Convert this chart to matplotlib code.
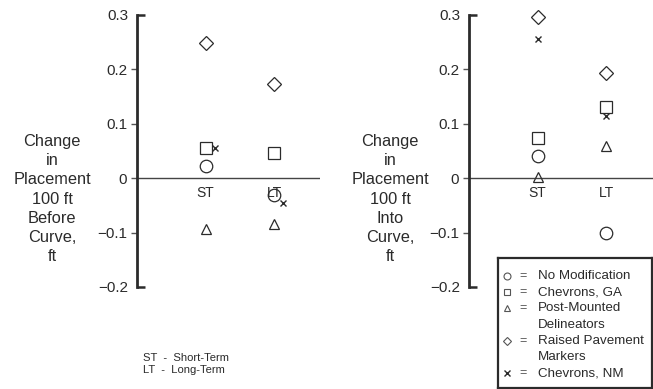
import matplotlib
matplotlib.use("Agg")
import matplotlib.pyplot as plt

plt.rcParams['font.family'] = ['Liberation Sans', 'DejaVu Sans']

# x positions of the two terms
terms = ['ST', 'LT']
term_x = [1, 2]

# change in placement 100 ft before curve (ft)
before_none = [0.022, -0.03]
before_chev_ga = [0.055, 0.046]
before_pmd = [-0.094, -0.085]
before_rpm = [0.249, 0.173]
before_chev_nm = [0.055, -0.045]

# change in placement 100 ft into curve (ft)
into_none = [0.041, -0.10]
into_chev_ga = [0.074, 0.131]
into_pmd = [0.002, 0.059]
into_rpm = [0.297, 0.194]
into_chev_nm = [0.255, 0.114]

# small sideways offset of the x marks that sit beside other marks
before_nm_dx = [0.13, 0.12]
into_nm_dx = [0.0, 0.0]

yticks_major = [0.2, 0.1, 0, -0.1]
ytick_major_labels = ['0.2', '0.1', '0', '\u22120.1']
yticks_minor = [0.3, -0.2]
ytick_minor_labels = ['0.3', '\u22120.2']

legend_marks = ['o', 's', '^', 'D', 'x']
legend_texts = ['No Modification', 'Chevrons, GA', 'Post-Mounted\nDelineators',
                'Raised Pavement\nMarkers', 'Chevrons, NM']

fig = plt.figure(figsize=(6.53, 3.89), dpi=100)

W, H = 653.0, 389.0
INK = '#2b2b2b'


def panel(left_px, right_px, series, nm_dx, ylabel, label_x_px):
    ax = fig.add_axes([left_px / W, 1 - 287 / H, (right_px - left_px) / W, (287 - 15) / H])
    ax.set_xlim(0, (right_px - left_px) / 68.7)
    ax.set_ylim(-0.2, 0.3)
    for s in ['top', 'right', 'bottom']:
        ax.spines[s].set_visible(False)
    ax.spines['left'].set_linewidth(2)
    ax.spines['left'].set_color(INK)
    ax.axhline(0, color='#444444', lw=1)
    ax.set_xticks([])
    ax.set_yticks(yticks_major)
    ax.set_yticklabels(ytick_major_labels)
    ax.set_yticks(yticks_minor, minor=True)
    ax.set_yticklabels(ytick_minor_labels, minor=True)
    ax.tick_params(axis='y', which='major', direction='out', length=4, width=1,
                   labelsize=11, pad=3, colors='#555555', labelcolor=INK)
    ax.tick_params(axis='y', which='minor', direction='in', length=6, width=1.8,
                   labelsize=11, pad=6, colors=INK)

    none, ga, pmd, rpm, nm = series
    kw = dict(linestyle='none', mfc='none', mec=INK, mew=0.9, clip_on=False)
    ax.plot(term_x, none, marker='o', ms=9, **kw)
    ax.plot(term_x, ga, marker='s', ms=9, **kw)
    ax.plot(term_x, pmd, marker='^', ms=7.5, **kw)
    ax.plot(term_x, rpm, marker='D', ms=7, **kw)
    ax.plot([x + d for x, d in zip(term_x, nm_dx)], nm, marker='x', ms=4.5,
            linestyle='none', color=INK, mew=1.0, clip_on=False)

    for x, t in zip(term_x, terms):
        ax.text(x, -0.014, t, ha='center', va='top', fontsize=10, color=INK)

    fig.text(label_x_px / W, 1 - 199 / H, ylabel, ha='center', va='center',
             fontsize=11.8, color=INK, linespacing=1.36)
    return ax


panel(137, 320, [before_none, before_chev_ga, before_pmd, before_rpm, before_chev_nm],
      before_nm_dx, 'Change\nin\nPlacement\n100 ft\nBefore\nCurve,\nft', 52)
panel(469, 653, [into_none, into_chev_ga, into_pmd, into_rpm, into_chev_nm],
      into_nm_dx, 'Change\nin\nPlacement\n100 ft\nInto\nCurve,\nft', 390)

# legend box
lax = fig.add_axes([498 / W, 1 - 388 / H, (652 - 498) / W, (388 - 258) / H])
lax.set_xlim(0, 154)
lax.set_ylim(130, 0)
lax.set_xticks([])
lax.set_yticks([])
for s in lax.spines.values():
    s.set_linewidth(1.6)
    s.set_color(INK)
row = 16.2
yy = 18
for m, t in zip(legend_marks, legend_texts):
    if m == 'x':
        lax.plot(9, yy, marker=m, ms=4, color=INK, mew=1)
    else:
        lax.plot(9, yy, marker=m, ms=5 if m != 'D' else 4, mfc='none',
                 mec='#555555', mew=0.8)
    lax.text(21, yy, '=', ha='left', va='center', fontsize=9, color='#555555')
    for line in t.split('\n'):
        lax.text(40, yy, line, ha='left', va='center', fontsize=9.6, color=INK)
        yy += row

fig.text(143 / W, 1 - 353 / H, 'ST  -  Short-Term\nLT  -  Long-Term', ha='left',
         va='top', fontsize=8.1, color=INK, linespacing=1.22)

fig.savefig('out.png', dpi=100)
